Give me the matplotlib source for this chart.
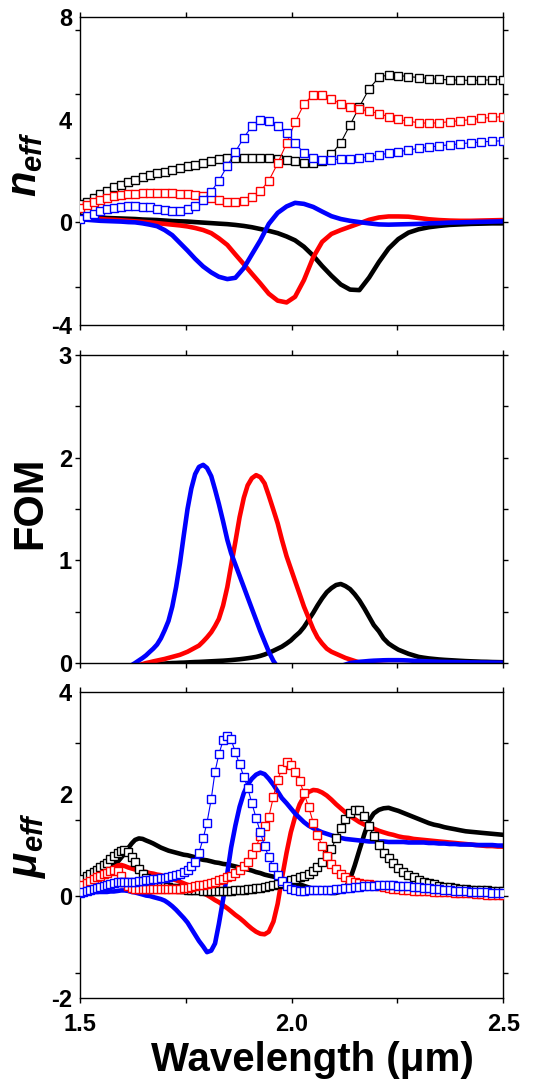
import matplotlib
matplotlib.use('Agg')
import matplotlib.pyplot as plt

plt.rcParams['font.family'] = ['Liberation Sans', 'DejaVu Sans']
plt.rcParams['font.weight'] = 'bold'
plt.rcParams['axes.labelweight'] = 'bold'
plt.rcParams['mathtext.fontset'] = 'custom'
plt.rcParams['mathtext.it'] = 'Liberation Sans:italic:bold'
plt.rcParams['mathtext.rm'] = 'Liberation Sans:bold'
plt.rcParams['axes.unicode_minus'] = False

# wavelength samples (um)
wl = [1.500, 1.516, 1.532, 1.548, 1.564, 1.580, 1.597, 1.614, 1.630, 1.648,
      1.665, 1.682, 1.700, 1.718, 1.736, 1.754, 1.772, 1.791, 1.810, 1.828,
      1.848, 1.867, 1.887, 1.906, 1.926, 1.946, 1.967, 1.988, 2.008, 2.029,
      2.051, 2.072, 2.094, 2.116, 2.138, 2.160, 2.183, 2.206, 2.229, 2.252,
      2.276, 2.300, 2.324, 2.348, 2.373, 2.398, 2.423, 2.448, 2.474, 2.500]

wl_dense = [1.500, 1.508, 1.516, 1.524, 1.532, 1.540, 1.548, 1.556, 1.564, 1.572,
            1.580, 1.589, 1.597, 1.605, 1.614, 1.622, 1.630, 1.639, 1.648, 1.656,
            1.665, 1.673, 1.682, 1.691, 1.700, 1.709, 1.718, 1.727, 1.736, 1.745,
            1.754, 1.763, 1.772, 1.781, 1.791, 1.800, 1.810, 1.819, 1.828, 1.838,
            1.848, 1.857, 1.867, 1.877, 1.887, 1.896, 1.906, 1.916, 1.926, 1.936,
            1.946, 1.957, 1.967, 1.977, 1.988, 1.998, 2.008, 2.019, 2.029, 2.040,
            2.051, 2.061, 2.072, 2.083, 2.094, 2.105, 2.116, 2.127, 2.138, 2.149,
            2.160, 2.172, 2.183, 2.194, 2.206, 2.217, 2.229, 2.240, 2.252, 2.264,
            2.276, 2.288, 2.300, 2.312, 2.324, 2.336, 2.348, 2.361, 2.373, 2.386,
            2.398, 2.411, 2.423, 2.436, 2.448, 2.461, 2.474, 2.487, 2.500]

# ---- n_eff : solid lines (on wl) ----
n_black = [0.26, 0.23, 0.21, 0.19, 0.17, 0.16, 0.15, 0.14, 0.13, 0.11,
           0.10, 0.09, 0.07, 0.05, 0.04, 0.03, 0.01, -0.01, -0.03, -0.05,
           -0.07, -0.10, -0.14, -0.19, -0.26, -0.33, -0.42, -0.55, -0.70, -0.95,
           -1.30, -1.70, -2.08, -2.42, -2.62, -2.64, -2.15, -1.55, -1.02, -0.65,
           -0.40, -0.27, -0.19, -0.14, -0.10, -0.08, -0.06, -0.05, -0.04, -0.04]
n_red = [0.20, 0.18, 0.15, 0.13, 0.11, 0.10, 0.08, 0.06, 0.04, 0.02,
         0.00, -0.03, -0.06, -0.09, -0.12, -0.16, -0.22, -0.30, -0.42, -0.62,
         -0.88, -1.25, -1.63, -2.00, -2.38, -2.78, -3.05, -3.12, -2.90, -2.25,
         -1.36, -0.76, -0.45, -0.30, -0.17, -0.04, 0.10, 0.19, 0.23, 0.23,
         0.22, 0.17, 0.12, 0.09, 0.07, 0.06, 0.06, 0.07, 0.08, 0.09]
n_blue = [0.13, 0.10, 0.08, 0.06, 0.05, 0.04, 0.03, 0.01, 0.00, -0.04,
          -0.09, -0.15, -0.30, -0.50, -0.80, -1.10, -1.42, -1.72, -1.95, -2.12,
          -2.21, -2.16, -1.78, -1.25, -0.70, -0.06, 0.37, 0.62, 0.76, 0.72,
          0.60, 0.42, 0.24, 0.13, 0.06, 0.01, -0.04, -0.08, -0.09, -0.08,
          -0.07, -0.06, -0.04, -0.03, -0.01, 0.00, 0.01, 0.02, 0.03, 0.04]

# ---- n_eff : open squares (on wl) ----
n_black_sq = [0.70, 0.80, 0.96, 1.10, 1.24, 1.36, 1.47, 1.57, 1.66, 1.75,
              1.83, 1.91, 1.98, 2.05, 2.12, 2.18, 2.24, 2.31, 2.39, 2.45,
              2.49, 2.51, 2.52, 2.52, 2.52, 2.50, 2.47, 2.44, 2.39, 2.33,
              2.30, 2.40, 2.65, 3.10, 3.80, 4.50, 5.20, 5.65, 5.75, 5.72,
              5.68, 5.64, 5.60, 5.57, 5.55, 5.54, 5.53, 5.54, 5.55, 5.56]
n_red_sq = [0.55, 0.66, 0.78, 0.88, 0.96, 1.02, 1.06, 1.10, 1.12, 1.14,
            1.14, 1.14, 1.14, 1.13, 1.12, 1.10, 1.07, 1.03, 0.95, 0.86,
            0.80, 0.79, 0.85, 0.99, 1.22, 1.62, 2.30, 3.08, 3.90, 4.60,
            4.98, 4.98, 4.80, 4.62, 4.49, 4.41, 4.33, 4.24, 4.11, 4.01,
            3.94, 3.88, 3.86, 3.88, 3.92, 3.96, 4.00, 4.05, 4.09, 4.12]
n_blue_sq = [0.15, 0.25, 0.33, 0.43, 0.51, 0.56, 0.60, 0.62, 0.62, 0.60,
             0.58, 0.53, 0.49, 0.45, 0.46, 0.52, 0.64, 0.86, 1.20, 1.62,
             2.20, 2.75, 3.30, 3.75, 3.97, 3.93, 3.74, 3.50, 3.10, 2.70,
             2.50, 2.43, 2.44, 2.46, 2.48, 2.51, 2.56, 2.63, 2.69, 2.75,
             2.82, 2.88, 2.93, 2.98, 3.02, 3.06, 3.10, 3.13, 3.16, 3.18]

# ---- FOM (on wl_dense) ----
fom_black = [-0.10, -0.095, -0.09, -0.085, -0.08, -0.075, -0.07, -0.065, -0.06, -0.055,
             -0.05, -0.045, -0.04, -0.035, -0.03, -0.027, -0.025, -0.022, -0.02, -0.017,
             -0.015, -0.012, -0.01, -0.007, -0.005, -0.002, 0.0, 0.001, 0.003, 0.004,
             0.006, 0.008, 0.01, 0.011, 0.013, 0.015, 0.017, 0.019, 0.021, 0.023,
             0.026, 0.029, 0.033, 0.037, 0.042, 0.047, 0.053, 0.06, 0.07, 0.083,
             0.10, 0.12, 0.14, 0.16, 0.19, 0.22, 0.26, 0.30, 0.35, 0.42,
             0.49, 0.56, 0.63, 0.69, 0.73, 0.76, 0.77, 0.75, 0.72, 0.67,
             0.61, 0.53, 0.45, 0.37, 0.31, 0.24, 0.19, 0.16, 0.13, 0.11,
             0.09, 0.075, 0.06, 0.052, 0.045, 0.04, 0.035, 0.031, 0.028, 0.025,
             0.022, 0.019, 0.017, 0.015, 0.013, 0.012, 0.01, 0.009, 0.008]
fom_red = [-0.25, -0.235, -0.22, -0.205, -0.19, -0.175, -0.16, -0.145, -0.13, -0.115,
           -0.10, -0.085, -0.07, -0.06, -0.05, -0.04, -0.03, -0.02, -0.01, 0.0,
           0.008, 0.016, 0.024, 0.032, 0.04, 0.05, 0.06, 0.07, 0.08, 0.095,
           0.11, 0.13, 0.15, 0.17, 0.21, 0.25, 0.30, 0.36, 0.43, 0.56,
           0.74, 0.95, 1.18, 1.42, 1.61, 1.73, 1.80, 1.83, 1.81, 1.75,
           1.63, 1.49, 1.36, 1.20, 1.04, 0.92, 0.80, 0.67, 0.55, 0.44,
           0.33, 0.25, 0.19, 0.14, 0.11, 0.09, 0.07, 0.05, 0.035, 0.02,
           0.005, -0.005, -0.01, -0.012, -0.015, -0.018, -0.02, -0.02, -0.02, -0.02,
           -0.02, -0.02, -0.02, -0.02, -0.02, -0.02, -0.02, -0.018, -0.016, -0.014,
           -0.012, -0.01, -0.009, -0.008, -0.006, -0.005, -0.003, -0.002, 0.0]
fom_blue = [-0.30, -0.29, -0.28, -0.26, -0.25, -0.23, -0.22, -0.20, -0.18, -0.16,
            -0.14, -0.12, -0.10, -0.07, -0.05, -0.02, 0.00, 0.025, 0.05, 0.075,
            0.11, 0.14, 0.18, 0.24, 0.32, 0.41, 0.55, 0.74, 0.97, 1.24,
            1.50, 1.70, 1.84, 1.91, 1.93, 1.90, 1.82, 1.69, 1.55, 1.38,
            1.20, 1.07, 0.96, 0.85, 0.74, 0.64, 0.53, 0.42, 0.31, 0.21,
            0.11, 0.02, -0.04, -0.10, -0.15, -0.18, -0.20, -0.20, -0.20, -0.18,
            -0.16, -0.14, -0.12, -0.09, -0.07, -0.05, -0.03, -0.015, 0.0, 0.006,
            0.012, 0.016, 0.02, 0.023, 0.025, 0.027, 0.028, 0.028, 0.028, 0.027,
            0.025, 0.022, 0.02, 0.018, 0.016, 0.014, 0.012, 0.011, 0.01, 0.009,
            0.008, 0.007, 0.006, 0.0055, 0.005, 0.0045, 0.004, 0.0035, 0.003]

# ---- mu_eff : solid lines (on wl_dense) ----
mu_black = [0.32, 0.35, 0.38, 0.41, 0.44, 0.47, 0.50, 0.52, 0.55, 0.58,
            0.61, 0.67, 0.75, 0.83, 0.94, 1.03, 1.10, 1.13, 1.12, 1.09,
            1.06, 1.03, 0.99, 0.95, 0.92, 0.89, 0.87, 0.85, 0.83, 0.81,
            0.80, 0.78, 0.76, 0.73, 0.71, 0.70, 0.68, 0.66, 0.65, 0.63,
            0.62, 0.60, 0.58, 0.56, 0.54, 0.52, 0.50, 0.47, 0.45, 0.42,
            0.40, 0.38, 0.36, 0.33, 0.30, 0.28, 0.25, 0.23, 0.20, 0.17,
            0.14, 0.12, 0.09, 0.07, 0.06, 0.06, 0.09, 0.16, 0.33, 0.60,
            0.90, 1.22, 1.48, 1.62, 1.69, 1.72, 1.73, 1.70, 1.67, 1.63,
            1.59, 1.55, 1.51, 1.47, 1.43, 1.40, 1.38, 1.35, 1.33, 1.31,
            1.29, 1.27, 1.26, 1.25, 1.24, 1.23, 1.22, 1.21, 1.20]
mu_red = [0.23, 0.27, 0.31, 0.34, 0.37, 0.39, 0.42, 0.45, 0.48, 0.52,
          0.56, 0.60, 0.61, 0.59, 0.56, 0.54, 0.52, 0.50, 0.48, 0.47,
          0.45, 0.44, 0.42, 0.41, 0.38, 0.36, 0.33, 0.31, 0.28, 0.25,
          0.22, 0.18, 0.15, 0.11, 0.06, 0.02, -0.03, -0.08, -0.12, -0.18,
          -0.24, -0.30, -0.37, -0.43, -0.50, -0.57, -0.64, -0.70, -0.74, -0.75,
          -0.70, -0.50, -0.15, 0.35, 0.85, 1.25, 1.55, 1.80, 1.95, 2.04,
          2.08, 2.07, 2.03, 1.97, 1.89, 1.80, 1.72, 1.64, 1.57, 1.51,
          1.45, 1.40, 1.36, 1.32, 1.28, 1.25, 1.22, 1.20, 1.17, 1.15,
          1.14, 1.12, 1.11, 1.10, 1.09, 1.08, 1.07, 1.06, 1.05, 1.04,
          1.03, 1.02, 1.01, 1.00, 0.99, 0.98, 0.98, 0.97, 0.97]
mu_blue = [0.10, 0.09, 0.09, 0.08, 0.08, 0.08, 0.08, 0.08, 0.08, 0.09,
           0.09, 0.10, 0.11, 0.11, 0.10, 0.08, 0.07, 0.05, 0.03, 0.01,
           0.00, -0.02, -0.04, -0.06, -0.09, -0.14, -0.20, -0.27, -0.35, -0.43,
           -0.52, -0.64, -0.76, -0.88, -0.99, -1.10, -1.07, -0.93, -0.55, -0.07,
           0.45, 0.95, 1.38, 1.75, 2.02, 2.18, 2.30, 2.38, 2.42, 2.39,
           2.30, 2.18, 2.05, 1.92, 1.82, 1.72, 1.62, 1.53, 1.45, 1.38,
           1.33, 1.29, 1.25, 1.22, 1.19, 1.16, 1.14, 1.12, 1.11, 1.10,
           1.09, 1.08, 1.07, 1.07, 1.07, 1.07, 1.06, 1.06, 1.06, 1.06,
           1.05, 1.05, 1.05, 1.05, 1.04, 1.04, 1.03, 1.03, 1.02, 1.02,
           1.01, 1.01, 1.01, 1.00, 1.00, 1.00, 1.00, 0.99, 0.99]

# ---- mu_eff : open squares (on wl_dense) ----
mu_black_sq = [0.29, 0.34, 0.39, 0.44, 0.48, 0.52, 0.57, 0.61, 0.65, 0.72,
               0.78, 0.84, 0.88, 0.90, 0.87, 0.76, 0.66, 0.54, 0.44, 0.35,
               0.29, 0.26, 0.23, 0.21, 0.19, 0.17, 0.16, 0.15, 0.14, 0.13,
               0.12, 0.12, 0.11, 0.11, 0.10, 0.10, 0.10, 0.10, 0.10, 0.10,
               0.10, 0.10, 0.11, 0.12, 0.12, 0.13, 0.14, 0.15, 0.16, 0.17,
               0.19, 0.21, 0.24, 0.26, 0.28, 0.31, 0.34, 0.37, 0.40, 0.44,
               0.50, 0.56, 0.66, 0.80, 0.92, 1.14, 1.34, 1.51, 1.63, 1.68,
               1.68, 1.57, 1.37, 1.18, 1.00, 0.85, 0.74, 0.64, 0.55, 0.48,
               0.42, 0.37, 0.32, 0.28, 0.26, 0.23, 0.20, 0.18, 0.17, 0.15,
               0.14, 0.13, 0.12, 0.12, 0.11, 0.11, 0.10, 0.10, 0.10]
mu_red_sq = [0.18, 0.22, 0.26, 0.30, 0.34, 0.37, 0.40, 0.43, 0.46, 0.49,
             0.52, 0.50, 0.40, 0.28, 0.20, 0.16, 0.14, 0.13, 0.13, 0.13,
             0.13, 0.13, 0.13, 0.13, 0.13, 0.13, 0.13, 0.13, 0.14, 0.15,
             0.16, 0.17, 0.19, 0.21, 0.22, 0.24, 0.26, 0.28, 0.31, 0.34,
             0.37, 0.40, 0.45, 0.51, 0.59, 0.67, 0.82, 0.96, 1.18, 1.38,
             1.55, 1.95, 2.28, 2.50, 2.63, 2.57, 2.43, 2.25, 2.02, 1.75,
             1.44, 1.19, 0.99, 0.78, 0.63, 0.53, 0.44, 0.37, 0.32, 0.27,
             0.25, 0.24, 0.23, 0.21, 0.19, 0.17, 0.15, 0.14, 0.13, 0.12,
             0.11, 0.10, 0.10, 0.09, 0.09, 0.08, 0.08, 0.07, 0.07, 0.06,
             0.06, 0.05, 0.05, 0.04, 0.04, 0.03, 0.03, 0.03, 0.03]
mu_blue_sq = [0.06, 0.08, 0.10, 0.12, 0.14, 0.16, 0.18, 0.20, 0.22, 0.24,
              0.25, 0.27, 0.28, 0.28, 0.28, 0.28, 0.28, 0.29, 0.30, 0.31,
              0.32, 0.33, 0.34, 0.35, 0.36, 0.38, 0.39, 0.41, 0.43, 0.47,
              0.52, 0.58, 0.67, 0.85, 1.13, 1.44, 1.90, 2.44, 2.78, 3.05,
              3.13, 3.07, 2.82, 2.58, 2.34, 2.12, 1.82, 1.53, 1.25, 0.98,
              0.76, 0.56, 0.42, 0.30, 0.20, 0.14, 0.11, 0.10, 0.10, 0.11,
              0.11, 0.11, 0.12, 0.12, 0.12, 0.13, 0.14, 0.15, 0.16, 0.17,
              0.18, 0.19, 0.20, 0.20, 0.21, 0.21, 0.21, 0.21, 0.20, 0.20,
              0.19, 0.18, 0.17, 0.16, 0.15, 0.14, 0.13, 0.12, 0.11, 0.10,
              0.10, 0.09, 0.08, 0.08, 0.07, 0.07, 0.06, 0.06, 0.05]

colors = ['black', '#ff0000', '#0000ff']


def draw_lines(ax, x, series):
    for y, c in zip(series, colors):
        ax.plot(x, y, color=c, lw=3.3, solid_joinstyle='round', zorder=2)


def draw_squares(ax, x, series, size):
    for y, c in zip(series, colors):
        ax.plot(x, y, color=c, lw=0.8, marker='s', ms=size, mfc='white',
                mec=c, mew=1.0, zorder=3)


def style_axis(ax, ylim, label_pos, labels, tick_pos, show_x=False):
    ax.set_xlim(1.5, 2.5)
    ax.set_ylim(*ylim)
    ax.set_xticks([1.5, 2.0, 2.5])
    ax.set_xticks([1.75, 2.25], minor=True)
    ax.set_yticks(label_pos)
    ax.set_yticklabels(labels)
    ax.set_yticks(tick_pos, minor=True)
    ax.yaxis.remove_overlapping_locs = False
    ax.tick_params(axis='x', which='both', direction='out', length=3.6,
                   width=1, top=True, pad=7, labelsize=17,
                   labelbottom=show_x)
    ax.tick_params(axis='y', which='major', length=0, pad=5.8, labelsize=17)
    ax.tick_params(axis='y', which='minor', direction='out', length=3.6,
                   width=1, right=True)
    for s in ax.spines.values():
        s.set_linewidth(1.0)


fig = plt.figure(figsize=(5.45, 10.82), dpi=100)
ax_n = fig.add_axes([0.1468, 0.6996, 0.7767, 0.2847])
ax_f = fig.add_axes([0.1468, 0.3872, 0.7767, 0.2847])
ax_m = fig.add_axes([0.1468, 0.0776, 0.7767, 0.2828])

# top: effective index
draw_lines(ax_n, wl, [n_black, n_red, n_blue])
draw_squares(ax_n, wl, [n_black_sq, n_red_sq, n_blue_sq], 5.8)
style_axis(ax_n, (-4, 8), [-4, 0, 4, 8], ['-4', '0', '4', '8'],
           [-2.5, 0, 2.5, 5, 7.5])
ax_n.set_ylabel(r'$n_{eff}$', fontsize=30)
ax_n.yaxis.set_label_coords(-0.083, 0.523)

# middle: figure of merit
draw_lines(ax_f, wl_dense, [fom_black, fom_red, fom_blue])
style_axis(ax_f, (0, 3), [0, 1, 2, 3], ['0', '1', '2', '3'],
           [0, 0.5, 1, 1.5, 2, 2.5, 3])
ax_f.set_ylabel('FOM', fontsize=30, fontweight='bold')
ax_f.yaxis.set_label_coords(-0.071, 0.521)

# bottom: effective permeability
draw_lines(ax_m, wl_dense, [mu_black, mu_red, mu_blue])
draw_squares(ax_m, wl_dense, [mu_black_sq, mu_red_sq, mu_blue_sq], 5.2)
style_axis(ax_m, (-2, 4), [-2, 0, 2, 4], ['-2', '0', '2', '4'],
           [-1.5, 0, 1.5, 3], show_x=True)
ax_m.set_ylabel(r'$\mu_{eff}$', fontsize=30)
ax_m.yaxis.set_label_coords(-0.076, 0.5)
ax_m.set_xlabel('Wavelength (μm)', fontsize=29, fontweight='bold')
ax_m.xaxis.set_label_coords(0.549, -0.14)

fig.savefig('out.png', dpi=100)
